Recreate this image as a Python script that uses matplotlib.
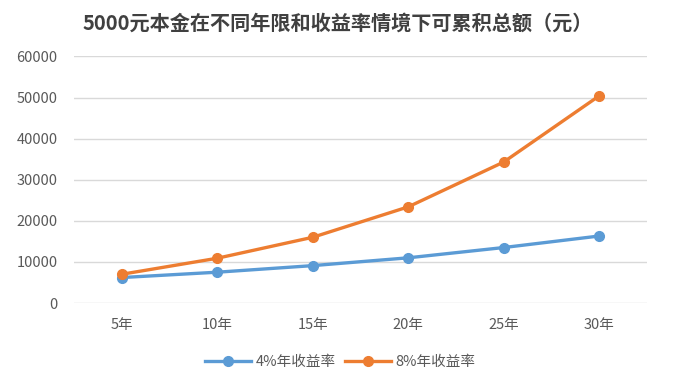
import matplotlib
matplotlib.use("Agg")
import matplotlib.pyplot as plt

plt.rcParams['font.family'] = ['Noto Sans CJK SC', 'DejaVu Sans']

years = ["5年", "10年", "15年", "20年", "25年", "30年"]
rate_4 = [6200, 7500, 9100, 11000, 13500, 16300]
rate_8 = [7000, 10900, 16000, 23400, 34300, 50400]
yticks = [0, 10000, 20000, 30000, 40000, 50000, 60000]

BLUE = "#5B9BD5"
ORANGE = "#ED7D31"
TEXT = "#595959"

fig = plt.figure(figsize=(7, 3.79), dpi=100)
ax = fig.add_axes([0.106, 0.2005, 0.818, 0.6505])

x = range(len(years))
ax.plot(x, rate_4, color=BLUE, linewidth=2.4, marker="o", markersize=7,
        label="4%年收益率", zorder=3)
ax.plot(x, rate_8, color=ORANGE, linewidth=2.4, marker="o", markersize=7,
        label="8%年收益率", zorder=3)

ax.set_xlim(-0.5, len(years) - 0.5)
ax.set_ylim(0, 60000)
ax.set_yticks(yticks)
ax.set_yticklabels([str(v) for v in yticks])
ax.set_xticks(list(x))
ax.set_xticklabels(years)
ax.tick_params(length=0, colors=TEXT, labelsize=10.5)
ax.tick_params(axis="x", pad=11)
ax.tick_params(axis="y", pad=12)
ax.grid(axis="y", color="#D9D9D9", linewidth=1.0)
ax.set_axisbelow(True)
for s in ax.spines.values():
    s.set_visible(False)

fig.text(0.483, 0.94, "5000元本金在不同年限和收益率情境下可累积总额（元）",
         ha="center", va="center", fontsize=14.5, fontweight="bold", color="#404040")

fig.legend(loc="center", bbox_to_anchor=(0.486, 0.045), ncol=2, frameon=False,
           fontsize=10.5, labelcolor=TEXT, handlelength=3.2, columnspacing=0.6,
           handletextpad=0.3)

fig.savefig("out.png", dpi=100)
